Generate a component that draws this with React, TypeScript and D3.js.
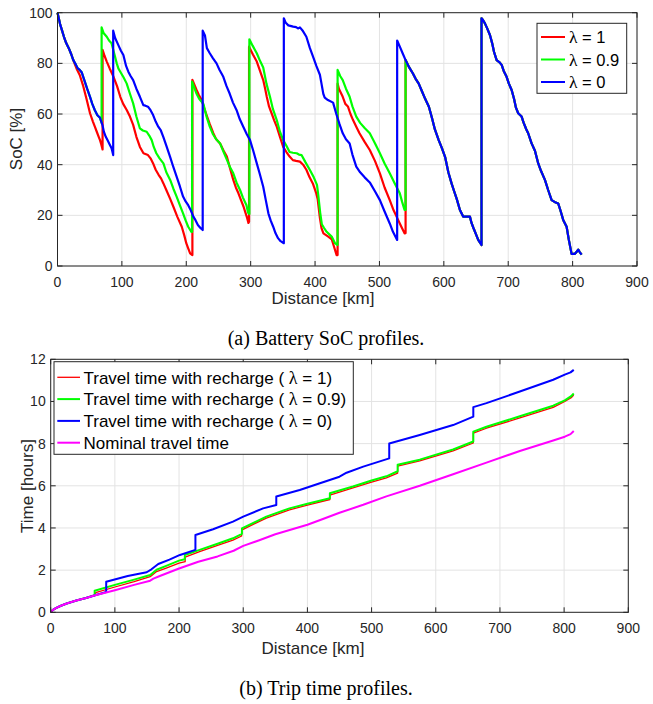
import React from "react";
import * as d3 from "d3";

type P = [number, number];

// ---------- (a) SoC profiles ----------
const socTail: P[] = [[540.6,81.3],[546,78.5],[552,76],[556,74],[561,72],[566,69],[571,66],[576.8,62.9],[582,58],[586,54],[592,49.7],[597,46.5],[602,43],[607,37],[612,32.6],[616,29.5],[620,26.5],[625,22.1],[630,19.5],[636,19.5],[640.5,19.5],[643,17],[646,15],[650,12.5],[653.4,10.3],[658.5,8.3],[658.5,97.8],[661,97],[663.8,95.8],[667,94],[671.6,91.2],[675,88],[678,84.5],[682,81.3],[686,80.5],[689.8,79.4],[693,77],[697.5,74.7],[701,72],[705.3,69.5],[709,66],[712,62.5],[715.5,60.3],[720.8,59],[724,56.5],[728,54],[731,52.4],[736.3,48.4],[741.5,45.5],[746.6,40.5],[751,37.5],[757,34],[762,30],[767.4,26],[772,25.3],[777.6,24.7],[781,22],[785.4,18.2],[790.7,15.5],[794,10.5],[798.4,4.8],[803.6,4.8],[806,5.5],[808.7,6.5],[811,5.5],[814,4.5]];

const socLambda1: P[] = [[0,100],[4,95.5],[7,93],[10,90.5],[13.5,88],[17.5,86],[21.5,83.5],[25.5,80.6],[29.5,78],[34.5,75.4],[40,71],[45,66],[50.5,60.3],[55,57],[58,55],[61,53],[64,51],[66,49.7],[68,48],[70,46],[70,85.3],[73,83],[76.5,80.7],[81,78],[87,74.7],[92.5,71],[97.5,66.8],[102,64],[107.5,61.6],[112.5,59],[117.5,55.7],[122.5,51],[128,47],[133.5,44.5],[140.5,43.8],[144.5,42.5],[148.5,40.5],[152.5,38],[157,36],[161,34.5],[164.5,32.6],[169,30],[175,26.5],[180,23.4],[186,19.5],[193,15.5],[197,12],[200,9],[203,7],[206,5],[209.5,4.3],[209.5,73.5],[216,69.5],[219.5,67.5],[224,65.5],[227.5,62.5],[231.5,59.6],[236.5,56],[242,52.4],[246.5,50],[252.5,48.4],[258,45.5],[263,43.2],[268,38.5],[273,34],[277,31],[281,28.7],[285,26],[289,23.4],[292,21],[294.5,19],[296.5,17],[297.5,17.5],[297.5,86.6],[303.5,83.5],[309.5,80.7],[314.5,77],[319.5,73.4],[322.5,70],[325,66.8],[328.5,63],[332.5,60.3],[336.5,57.5],[340.5,55],[345.5,51],[350.5,47],[355.5,45],[360.5,43.2],[365.5,41.8],[370.5,41.5],[376.5,41.2],[381.5,40],[386.5,38],[391.5,35],[396.5,32.6],[401.5,29],[404,26.5],[407.5,19],[410,15],[413,12.9],[420.5,11.6],[426,10.5],[429,8],[433.5,4.3],[435,4.3],[435,72],[437,70],[443,66.8],[447,64],[451,63],[455,60],[459,57.6],[464,55],[469,52.4],[477,49],[485,45.8],[493,41.5],[500.7,36.6],[508,31],[516,26],[522,22],[529,18.2],[534,15.5],[539,12.9],[540.6,13]];

const socLambda09: P[] = [[0,100],[4,95.5],[7,93],[10,90.5],[13.5,88],[17.5,86],[21.5,83.5],[24.5,81.3],[28.5,79.5],[31.5,78],[34.5,77.4],[37.5,76.5],[41.5,73.5],[46,70],[50.5,66.8],[54,64],[58,61.5],[62,59.5],[66,58.5],[68.5,56.5],[68.5,94.2],[71.5,92],[76.5,90.5],[80,89],[84,87.9],[88,84],[92,80],[94.5,78],[97.5,76.7],[102.5,74.5],[107.5,72],[112.5,68],[117.5,64.2],[122.5,59],[128,54.3],[132.5,53.5],[138.5,53],[142.5,51.5],[146.3,49.7],[149.5,47],[153.5,44.5],[158.5,42.5],[164.5,40.5],[169,37],[175,34],[180,30.5],[185,27.4],[190,24],[195,20.8],[199,18],[203,15.5],[208,13.5],[209,13.5],[209,72.8],[213,70],[216,68],[220,66],[226.5,64],[231.5,59],[236.5,55],[241.5,52],[246.5,50],[252.5,48.4],[258,45],[263,42],[268,39],[273,36.6],[278,33],[283.5,30],[288,27],[293.5,24],[296,21],[298,20.5],[298,89.5],[303,87],[309.5,84],[314.5,81],[319.5,78.4],[324.5,72],[330,66.8],[334.5,62],[340.5,57.6],[345.5,53],[350.5,49.7],[355.5,47.5],[360.5,45],[365.5,44.7],[371.5,44.5],[375,44],[379,43.8],[385,41],[392,37.9],[398,35],[403,32],[405,28],[408,21],[410.5,16.5],[414,15],[418,13.5],[425.8,11.6],[431,9],[434.5,8.3],[435,8.3],[435,77.4],[439,75],[443,73.4],[448,70],[453.7,66.8],[458,63],[464,59],[470,56.5],[477,54.5],[485,52.4],[493,48.5],[500.7,44.5],[508,40.5],[516,36.6],[524,32.5],[531.6,28.7],[535,25.5],[539,22.1],[540.6,22.1]];

const socLambda0: P[] = [[0,100],[4,95.5],[7,93],[10,90.5],[13.5,88],[17.5,86],[21.5,83.5],[24.5,81.3],[28.5,79.5],[31.5,78],[34.5,77.4],[37.5,76.5],[41.5,73.5],[46,70],[50.5,66.8],[54,64],[58,61.5],[62,59.5],[66,58.5],[68,57],[70,55.5],[72,53],[75,51],[78,49.5],[81,48],[84,46.5],[86.5,43.8],[86.5,92.9],[89.5,90],[94.5,87.2],[98.5,85],[102.3,83.3],[106.5,79],[110,76.7],[113.5,75],[117.5,73.4],[122.5,70],[128,66.8],[133.3,63.5],[136.5,63.3],[140.5,62.9],[144.5,61.5],[148.5,59.6],[152.5,57],[156.5,55],[160.5,53.5],[164.3,51],[169,47.5],[175,43],[180,39],[185,35.3],[190,31.5],[195,27.4],[199,25.5],[203,24],[207,22],[211,19.5],[214.5,18],[218,16.2],[222,15],[225.5,14.2],[225.5,92.9],[229,91],[232,86],[236.5,84],[241.5,82],[247,80],[251.5,77.5],[257.5,74.7],[262.5,71],[267.5,68],[272.5,64.5],[278,61.6],[283,58],[288.5,55],[294,52],[299,49.7],[304,45.5],[309.5,40.5],[314.5,36],[319.5,31.3],[323.5,26],[327.5,20.8],[331,18],[335,15.5],[338.5,13],[342.5,11],[346.5,9.8],[351.5,9],[351.5,97.8],[354.5,96],[358.5,95],[361.5,94.8],[366,94.5],[370.5,94.3],[373.5,93.8],[376.5,94.2],[380.5,93],[386.5,90.5],[392,86],[397,82.6],[402,79],[407.5,75.5],[410,72],[412.8,68],[415,66.5],[420,65.5],[428,64.5],[433,60],[438,56],[443,52.4],[448,50],[453.7,48.4],[458,44],[464,39.2],[470,37],[477,35],[485,33],[493,29.5],[500.7,26],[508,21.5],[516,16.8],[521,13.5],[527.5,10.3],[527.5,89],[531,87],[536,84]];

// ---------- (b) Trip time profiles ----------
const timeLambda1: P[] = [[0,0],[3,0.1],[8,0.2],[15,0.3],[25,0.42],[40,0.56],[55,0.68],[70,0.82],[70,0.93],[100,1.2],[130,1.45],[155,1.69],[165,1.93],[180,2.1],[200,2.33],[209.5,2.4],[209.5,2.62],[232,2.88],[260,3.17],[284,3.42],[297.5,3.62],[297.5,3.9],[336,4.47],[372,4.86],[400,5.08],[435,5.35],[435,5.56],[471,5.9],[500,6.17],[523,6.38],[540.6,6.6],[540.6,6.93],[575,7.18],[627,7.66],[658.5,8.03],[658.5,8.5],[679,8.73],[731,9.22],[783,9.72],[801,10.0],[811,10.18],[815,10.3]];

const timeLambda09: P[] = [[0,0],[3,0.1],[8,0.2],[15,0.3],[25,0.42],[40,0.56],[55,0.68],[68.5,0.81],[68.5,1.02],[100,1.3],[130,1.55],[155,1.77],[165,2.02],[180,2.2],[200,2.45],[209,2.52],[209,2.72],[232,2.96],[260,3.25],[284,3.51],[298,3.72],[298,3.98],[336,4.54],[372,4.93],[400,5.15],[435,5.41],[435,5.65],[471,5.97],[500,6.25],[523,6.45],[540.6,6.69],[540.6,7.0],[575,7.24],[627,7.72],[658.5,8.1],[658.5,8.57],[679,8.8],[731,9.3],[783,9.8],[801,10.05],[811,10.25],[815,10.38]];

const timeLambda0: P[] = [[0,0],[3,0.1],[8,0.2],[15,0.3],[25,0.42],[40,0.56],[55,0.68],[68,0.8],[86.5,0.96],[86.5,1.45],[120,1.72],[149.5,1.9],[157,2.04],[167.6,2.29],[185,2.5],[201.4,2.72],[225.5,2.96],[225.5,3.67],[253,3.94],[284,4.3],[300,4.54],[331,4.93],[351.5,5.09],[351.5,5.49],[388,5.8],[419.5,6.12],[450,6.43],[461,6.62],[487,6.91],[527.5,7.3],[527.5,8.01],[575,8.41],[627,8.88],[658.5,9.28],[658.5,9.73],[679,9.92],[731,10.47],[783,11.03],[801,11.27],[810,11.38],[815,11.5]];

const timeNominal: P[] = [[0,0],[3,0.1],[8,0.2],[15,0.3],[25,0.42],[40,0.56],[55,0.68],[68,0.8],[100,1.05],[130,1.3],[155,1.5],[160,1.6],[170,1.72],[200,2.08],[230,2.4],[260,2.65],[285,2.92],[300,3.15],[325,3.42],[350,3.7],[400,4.15],[420,4.38],[450,4.72],[487,5.1],[523,5.5],[575,6.0],[627,6.55],[679,7.1],[731,7.65],[783,8.15],[801,8.33],[810,8.45],[815,8.6]];

const xTicks = [0, 100, 200, 300, 400, 500, 600, 700, 800, 900];
const socTicks = [0, 20, 40, 60, 80, 100];
const timeTicks = [0, 2, 4, 6, 8, 10, 12];

const socLegend = ["1", "0.9", "0"];
const timeLegendPrefix = "Travel time with recharge ( ";
const timeLegend = ["1)", "0.9)", "0)"];
const nominalLabel = "Nominal travel time";

const AX = "#262626";
const GRID = "#e3e3e3";
const SANS = "'Liberation Sans', Arial, Helvetica, sans-serif";
const SERIF = "'Liberation Serif', 'Times New Roman', serif";

function Grid({ x, y, xt, yt }: any) {
  const [x0, x1] = x.range();
  const [y0, y1] = y.range();
  return (
    <g>
      {xt.map((t: number) => (
        <line key={"gx" + t} x1={x(t)} x2={x(t)} y1={y0} y2={y1} stroke={GRID} strokeWidth={1} />
      ))}
      {yt.map((t: number) => (
        <line key={"gy" + t} x1={x0} x2={x1} y1={y(t)} y2={y(t)} stroke={GRID} strokeWidth={1} />
      ))}
    </g>
  );
}

function Frame({ x, y, xt, yt, fs }: any) {
  const [x0, x1] = x.range();
  const [y0, y1] = y.range();
  const tl = 5;
  return (
    <g>
      <rect x={x0} y={y1} width={x1 - x0} height={y0 - y1} fill="none" stroke={AX} strokeWidth={1} />
      {xt.map((t: number) => (
        <g key={"tx" + t}>
          <line x1={x(t)} x2={x(t)} y1={y0} y2={y0 - tl} stroke={AX} />
          <line x1={x(t)} x2={x(t)} y1={y1} y2={y1 + tl} stroke={AX} />
          <text x={x(t)} y={y0 + 20.5} textAnchor="middle" fontFamily={SANS} fontSize={fs} fill={AX}>{t}</text>
        </g>
      ))}
      {yt.map((t: number) => (
        <g key={"ty" + t}>
          <line x1={x0} x2={x0 + tl} y1={y(t)} y2={y(t)} stroke={AX} />
          <line x1={x1} x2={x1 - tl} y1={y(t)} y2={y(t)} stroke={AX} />
          <text x={x0 - 5} y={y(t) + 5} textAnchor="end" fontFamily={SANS} fontSize={fs} fill={AX}>{t}</text>
        </g>
      ))}
    </g>
  );
}

export default function App() {
  // chart (a)
  const xa = d3.scaleLinear().domain([0, 900]).range([57.5, 637]);
  const ya = d3.scaleLinear().domain([0, 100]).range([266, 12.7]);
  const la = d3.line<P>().x((d) => xa(d[0])).y((d) => ya(d[1]));
  // chart (b)
  const xb = d3.scaleLinear().domain([0, 900]).range([50.7, 628.3]);
  const yb = d3.scaleLinear().domain([0, 12]).range([612.3, 359.3]);
  const lb = d3.line<P>().x((d) => xb(d[0])).y((d) => yb(d[1]));

  const socSeries = [
    { d: socLambda1.concat(socTail), c: "#ff0000" },
    { d: socLambda09.concat(socTail), c: "#00ff00" },
    { d: socLambda0.concat(socTail), c: "#0000ff" },
  ];
  const timeSeries = [
    { d: timeLambda1, c: "#ff0000", w: 1.3 },
    { d: timeLambda09, c: "#00ff00", w: 2 },
    { d: timeLambda0, c: "#0000ff", w: 2 },
    { d: timeNominal, c: "#ff00ff", w: 2 },
  ];
  const colors = ["#ff0000", "#00ff00", "#0000ff", "#ff00ff"];
  const fs = 14;
  const lfs = 17;

  return (
    <svg width={653} height={704} style={{ position: "absolute", left: 0, top: 0, background: "#fff" }}>
      <rect x={0} y={0} width={653} height={704} fill="#fff" />
      {/* ---- chart a ---- */}
      <Grid x={xa} y={ya} xt={xTicks} yt={socTicks} />
      {socSeries.map((s, i) => (
        <path key={i} d={la(s.d) || ""} fill="none" stroke={s.c} strokeWidth={2.2} strokeLinejoin="round" />
      ))}
      <Frame x={xa} y={ya} xt={xTicks} yt={socTicks} fs={fs} />
      <text x={323} y={304} textAnchor="middle" fontFamily={SANS} fontSize={lfs} fill={AX}>Distance [km]</text>
      <text transform="translate(22,139) rotate(-90)" textAnchor="middle" fontFamily={SANS} fontSize={lfs} fill={AX}>SoC [%]</text>
      {/* legend a */}
      <g>
        <rect x={537} y={23.3} width={89.7} height={70} fill="#fff" stroke={AX} strokeWidth={1} />
        {socLegend.map((v, i) => (
          <g key={i}>
            <line x1={541} x2={565} y1={37 + i * 22.5} y2={37 + i * 22.5} stroke={colors[i]} strokeWidth={2} />
            <text x={569} y={43 + i * 22.5} fontFamily={SANS} fontSize={16.5} fill="#000">
              <tspan fontFamily={SERIF} fontSize={17.5}>λ</tspan> = {v}
            </text>
          </g>
        ))}
      </g>
      <text x={326} y={345} textAnchor="middle" fontFamily={SERIF} fontSize={20} fill="#000">(a) Battery SoC profiles.</text>

      {/* ---- chart b ---- */}
      <Grid x={xb} y={yb} xt={xTicks} yt={timeTicks} />
      {timeSeries.map((s, i) => (
        <path key={i} d={lb(s.d) || ""} fill="none" stroke={s.c} strokeWidth={s.w} strokeLinejoin="round" />
      ))}
      <Frame x={xb} y={yb} xt={xTicks} yt={timeTicks} fs={fs} />
      <text x={313} y={654} textAnchor="middle" fontFamily={SANS} fontSize={lfs} fill={AX}>Distance [km]</text>
      <text transform="translate(33,486) rotate(-90)" textAnchor="middle" fontFamily={SANS} fontSize={lfs} fill={AX}>Time [hours]</text>
      {/* legend b */}
      <g>
        <rect x={54} y={361.7} width={299.3} height={92.6} fill="#fff" stroke={AX} strokeWidth={1} />
        {[0, 1, 2, 3].map((i) => (
          <g key={i}>
            <line x1={57.3} x2={80} y1={377.3 + i * 21.8} y2={377.3 + i * 21.8} stroke={colors[i]} strokeWidth={i === 0 ? 1.3 : 2} />
            <text x={83.5} y={383.5 + i * 21.8} fontFamily={SANS} fontSize={17} fill="#000">
              {i < 3 ? (
                <>
                  {timeLegendPrefix}
                  <tspan fontFamily={SERIF} fontSize={18}>λ</tspan> = {timeLegend[i]}
                </>
              ) : (
                nominalLabel
              )}
            </text>
          </g>
        ))}
      </g>
      <text x={326} y={695} textAnchor="middle" fontFamily={SERIF} fontSize={20} fill="#000">(b) Trip time profiles.</text>
    </svg>
  );
}
